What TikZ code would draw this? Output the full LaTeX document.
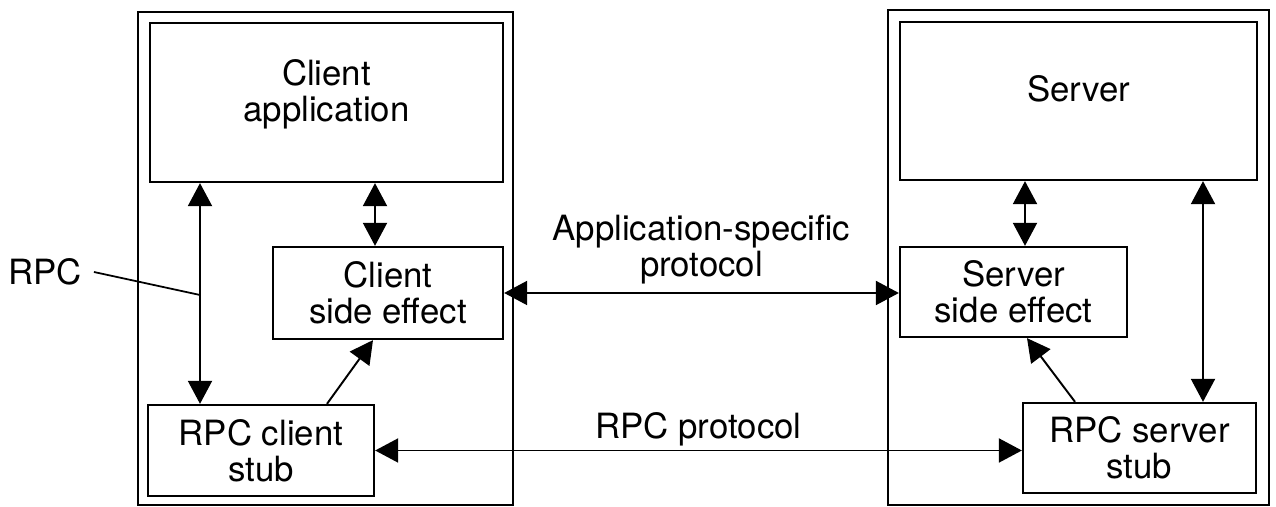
\documentclass[tikz,border=0pt]{standalone}
\usepackage{fontspec}
\setmainfont{TeX Gyre Heros}
\usetikzlibrary{arrows.meta,positioning}

\begin{document}
\begin{tikzpicture}[
	box/.style={draw,line width=1.3pt,inner sep=0pt},
	host/.style={draw,line width=1.2pt,inner sep=0pt},
	txt/.style={align=center,font=\fontsize{19.8}{20.5}\selectfont},
	link/.style={{Triangle[length=0.46cm,width=0.48cm]}-{Triangle[length=0.46cm,width=0.48cm]},line width=1.1pt},
	push/.style={-{Triangle[length=0.46cm,width=0.48cm]},line width=1.1pt}
]
\useasboundingbox (0,0) rectangle (25.52,10.14);

%client machine
\node[host,minimum width=7.50cm,minimum height=9.86cm](clienthost) at (6.51,4.97){};
\node[box,minimum width=7.06cm,minimum height=3.18cm](app) at (6.53,8.09){};
\node[txt](apptxt) at (6.53,8.25){Client\\application};
\node[box,txt,minimum width=4.60cm,minimum height=1.84cm](cside) at (7.76,4.28){Client\\side effect};
\node[box,txt,minimum width=4.52cm,minimum height=1.82cm](cstub) at (5.22,1.13){RPC client\\stub};

%server machine
\node[host,minimum width=7.62cm,minimum height=9.90cm](serverhost) at (21.57,4.99){};
\node[box,minimum width=7.14cm,minimum height=3.16cm](server) at (21.57,8.12){};
\node[txt](servertxt) at (21.57,8.36){Server};
\node[box,txt,minimum width=4.54cm,minimum height=1.80cm](sside) at (20.27,4.30){Server\\side effect};
\node[box,txt,minimum width=4.66cm,minimum height=1.80cm](sstub) at (22.79,1.18){RPC server\\stub};

\coordinate (capp) at (4.00,0);
\coordinate (cse) at (7.50,0);
\coordinate (sse) at (20.50,0);
\coordinate (srv) at (24.06,0);

%draw vertical links
\draw[link](capp |- app.south)--(capp |- cstub.north);
\draw[link](cse |- app.south)--(cse |- cside.north);
\draw[link](sse |- server.south)--(sse |- sside.north);
\draw[link](srv |- server.south)--(srv |- sstub.north);

%stub to side effect
\draw[push]([xshift=1.32cm]cstub.north)--([xshift=-0.30cm]cside.south);
\draw[push]([xshift=-1.29cm]sstub.north)--([xshift=0.27cm]sside.south);

%protocols
\draw[link](cside.east)--node[txt,above=0.04cm](apptag){Application-specific\\protocol}(cside.east -| sside.west);
\draw[link](cstub.east)--node[txt,above=-0.04cm](rpctag){RPC protocol}(cstub.east -| sstub.west);

%add annotations
\node[txt](rpc) at (0.90,4.70){RPC};
\coordinate (rpctap) at (4.00,4.24);
\draw[line width=1pt]([xshift=0.12cm]rpc.east)--(rpctap);
\end{tikzpicture}
\end{document}
